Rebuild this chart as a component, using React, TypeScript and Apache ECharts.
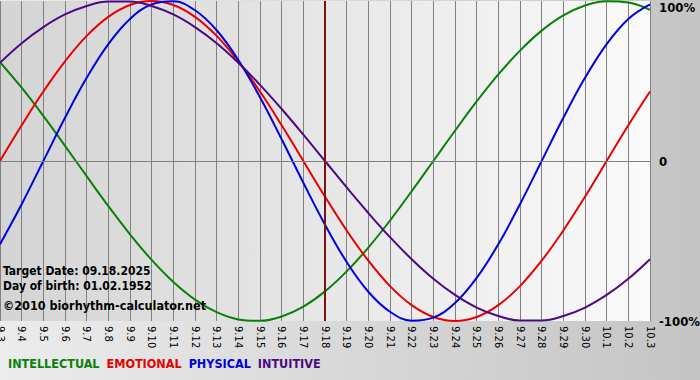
import React, { useEffect, useRef } from "react";
import * as echarts from "echarts";

const categories = [
  "9.3", "9.4", "9.5", "9.6", "9.7", "9.8", "9.9", "9.10", "9.11", "9.12",
  "9.13", "9.14", "9.15", "9.16", "9.17", "9.18", "9.19", "9.20", "9.21", "9.22",
  "9.23", "9.24", "9.25", "9.26", "9.27", "9.28", "9.29", "9.30", "10.1", "10.2", "10.3",
];

const intellectual = [
  61.8, 45.8, 28.2, 9.5, -9.5, -28.2, -45.8, -61.8, -75.6, -86.6,
  -94.5, -99.0, -99.9, -97.2, -91.0, -81.5, -69.0, -54.1, -37.2, -18.9,
  0, 18.9, 37.2, 54.1, 69.0, 81.5, 91.0, 97.2, 99.9, 99.0, 94.5,
];

const emotional = [
  0, 22.3, 43.4, 62.3, 78.2, 90.1, 97.5, 100, 97.5, 90.1,
  78.2, 62.3, 43.4, 22.3, 0, -22.3, -43.4, -62.3, -78.2, -90.1,
  -97.5, -100, -97.5, -90.1, -78.2, -62.3, -43.4, -22.3, 0, 22.3, 43.4,
];

const physical = [
  -52.0, -27.0, 0, 27.0, 52.0, 73.1, 88.8, 97.9, 99.8, 94.2,
  81.7, 63.1, 39.8, 13.6, -13.6, -39.8, -63.1, -81.7, -94.2, -99.8,
  -97.9, -88.8, -73.1, -52.0, -27.0, 0, 27.0, 52.0, 73.1, 88.8, 97.9,
];

const intuitive = [
  61.4, 73.6, 83.7, 91.6, 96.9, 99.7, 99.7, 96.9, 91.6, 83.7,
  73.6, 61.4, 47.6, 32.5, 16.5, 0, -16.5, -32.5, -47.6, -61.4,
  -73.6, -83.7, -91.6, -96.9, -99.7, -99.7, -96.9, -91.6, -83.7, -73.6, -61.4,
];

const yTicks = [-100, 0, 100];
const yTickLabels: Record<string, string> = { "-100": "-100%", "0": "0", "100": "100%" };

const targetDay = "9.18";
const infoLines = ["Target Date: 09.18.2025", "Day of birth: 01.02.1952"];
const copyright = "©2010 biorhythm-calculator.net";

const seriesDefs = [
  { name: "INTELLECTUAL", data: intellectual, color: "#0a800a" },
  { name: "EMOTIONAL", data: emotional, color: "#e80000" },
  { name: "PHYSICAL", data: physical, color: "#0000e0" },
  { name: "INTUITIVE", data: intuitive, color: "#4b0a82" },
];

const FONT = "'DejaVu Sans Condensed', 'DejaVu Sans', Verdana, sans-serif";

export default function App() {
  const ref = useRef<HTMLDivElement>(null);

  useEffect(() => {
    if (!ref.current) return;
    const chart = echarts.init(ref.current, null, { renderer: "svg" });

    const series: any[] = seriesDefs.map((s, idx) => ({
      name: s.name,
      type: "line",
      data: s.data,
      smooth: 0.4,
      symbol: "none",
      lineStyle: { color: s.color, width: 2 },
      itemStyle: { color: s.color },
      z: 3,
      markLine:
        idx === 0
          ? {
              silent: true,
              symbol: "none",
              label: { show: false },
              animation: false,
              data: [
                { yAxis: 0, lineStyle: { color: "#808080", width: 1, type: "solid" } },
              ],
            }
          : idx === 3
          ? {
              silent: true,
              symbol: "none",
              label: { show: false },
              animation: false,
              data: [
                { xAxis: targetDay, lineStyle: { color: "#7a1212", width: 2, type: "solid" } },
              ],
            }
          : undefined,
    }));

    chart.setOption({
      animation: false,
      backgroundColor: "transparent",
      grid: {
        left: 0,
        right: 50,
        top: 1,
        bottom: 59,
        containLabel: false,
        outerBoundsMode: "none",
        show: true,
        borderWidth: 0,
        backgroundColor: new echarts.graphic.LinearGradient(0, 0, 1, 0, [
          { offset: 0, color: "#d4d4d4" },
          { offset: 1, color: "#fafafa" },
        ]),
      },
      legend: {
        left: -2,
        top: 352,
        icon: "rect",
        itemWidth: 0,
        itemHeight: 0,
        itemGap: 2,
        selectedMode: false,
        data: seriesDefs.map((s) => ({
          name: s.name,
          textStyle: { color: s.color },
        })),
        textStyle: { fontFamily: FONT, fontWeight: "bold", fontSize: 12.5 },
      },
      xAxis: {
        type: "category",
        data: categories,
        boundaryGap: false,
        axisLine: { show: true, lineStyle: { color: "#808080", width: 1 } },
        axisTick: { show: true, length: 4, interval: 0, lineStyle: { color: "#808080" } },
        splitLine: { show: true, interval: 0, lineStyle: { color: "#808080", width: 1 } },
        axisLabel: {
          interval: 0,
          rotate: -90,
          margin: 5,
          fontSize: 10,
          fontFamily: "'DejaVu Sans', Verdana, sans-serif",
          color: "#000",
          hideOverlap: false,
        },
      },
      yAxis: {
        type: "value",
        position: "right",
        min: -100,
        max: 100,
        interval: 100,
        axisLine: { show: false },
        axisTick: { show: false },
        splitLine: { show: false },
        axisLabel: {
          margin: 9,
          fontSize: 13,
          fontWeight: "bold",
          fontFamily: FONT,
          color: "#000",
          verticalAlignMaxLabel: "top",
          formatter: (v: number) => (yTicks.includes(v) ? yTickLabels[String(v)] : ""),
        },
      },
      graphic: [
        ...infoLines.map((t, i) => ({
          type: "text",
          left: 3,
          top: 265 + i * 15,
          z: 10,
          style: {
            text: t,
            fill: "#000",
            font: `bold 12px ${FONT}`,
          },
        })),
        {
          type: "text",
          left: 3,
          top: 299,
          z: 10,
          style: {
            text: copyright,
            fill: "#000",
            font: `bold 12.5px ${FONT}`,
          },
        },
      ],
      series,
    });

    return () => chart.dispose();
  }, []);

  return (
    <div
      style={{
        position: "absolute",
        left: 0,
        top: 0,
        width: 700,
        height: 380,
        background: "linear-gradient(to right, #ececec 0%, #c4c4c4 100%)",
      }}
    >
      <div ref={ref} style={{ width: 700, height: 380 }} />
    </div>
  );
}
